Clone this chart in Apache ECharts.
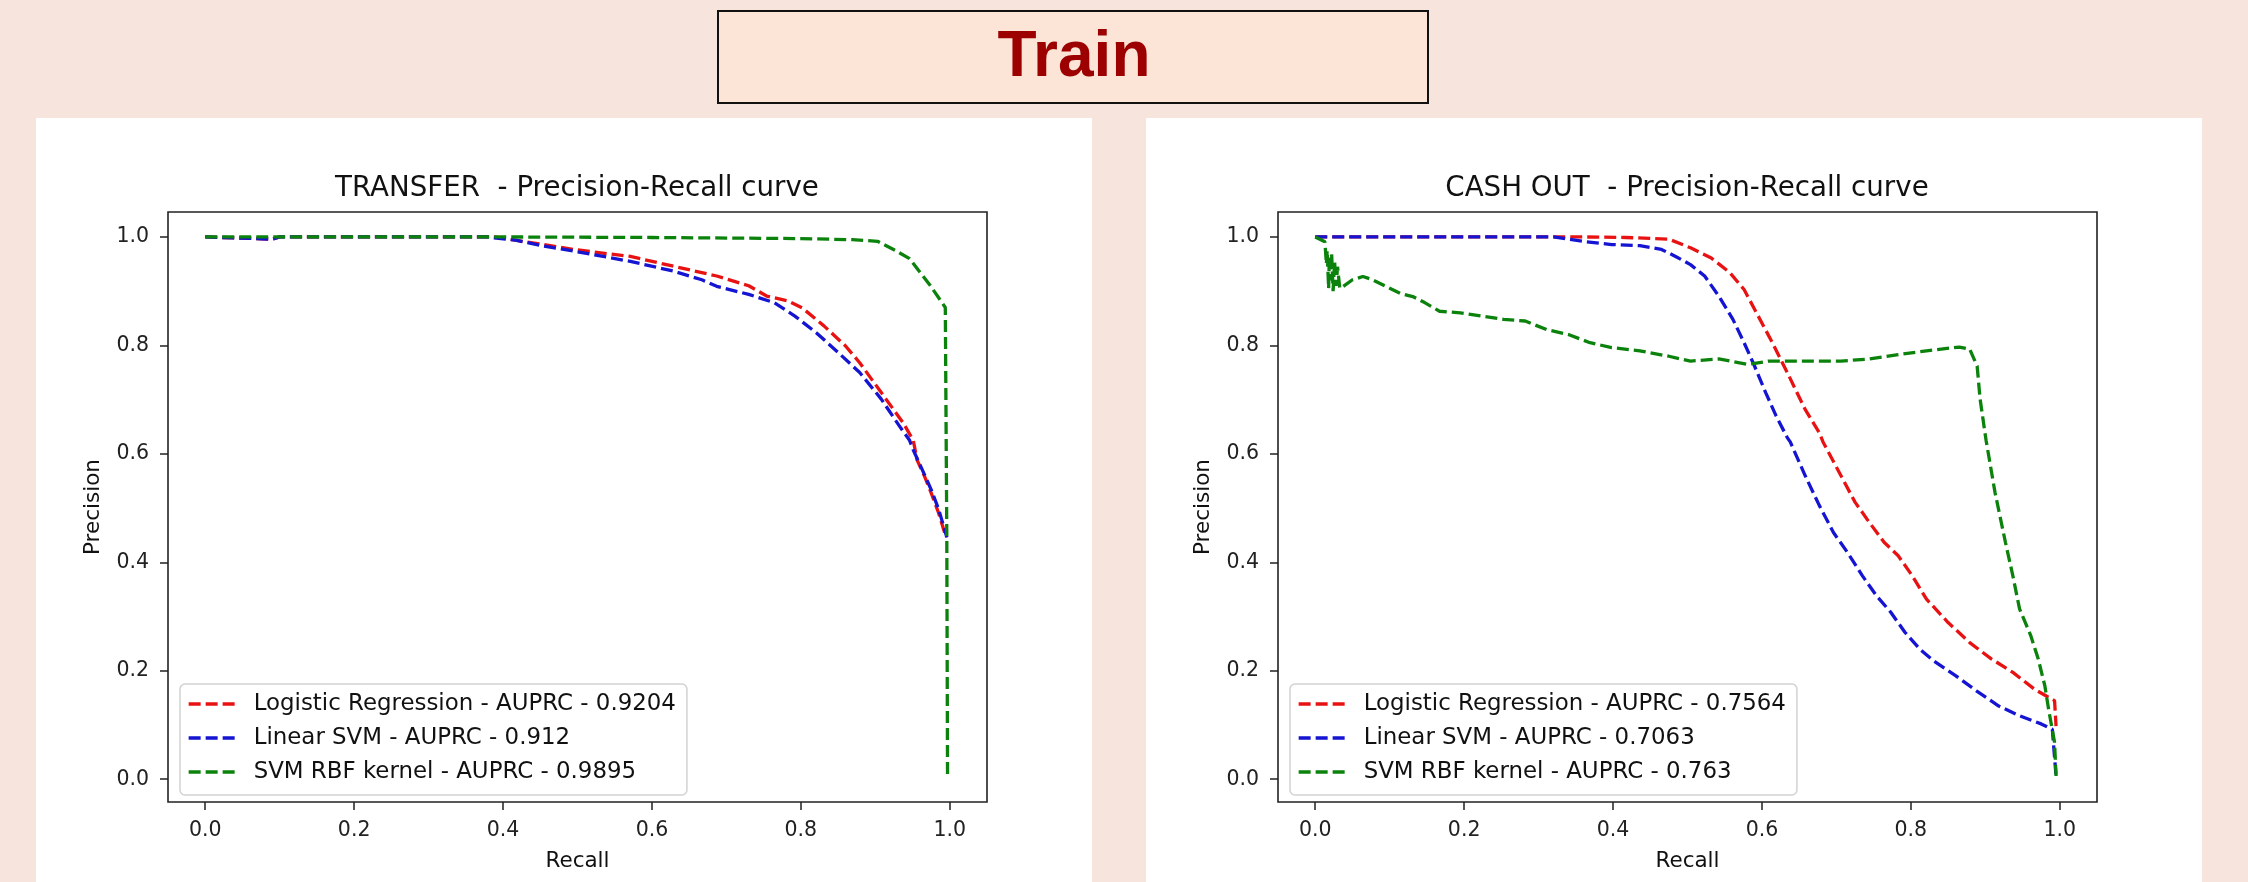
<!DOCTYPE html>
<html>
<head>
<meta charset="utf-8">
<script src="https://cdn.jsdelivr.net/npm/echarts@6/dist/echarts.min.js"></script>
<style>
  html, body { margin: 0; padding: 0; background: #f7e4dd; }
  #chart { width: 2248px; height: 882px; }
</style>
</head>
<body>
<div id="chart"></div>
<script>
// ---------- data ----------
const pageTitle = 'Train';
const panelTitles = ['TRANSFER  - Precision-Recall curve', 'CASH OUT  - Precision-Recall curve'];
const xAxisName = 'Recall';
const yAxisName = 'Precision';
const tickValues = [0, 0.2, 0.4, 0.6, 0.8, 1.0];
const tickLabels = ['0.0', '0.2', '0.4', '0.6', '0.8', '1.0'];
const modelNames = ['Logistic Regression', 'Linear SVM', 'SVM RBF kernel'];
const transferAuprc = ['0.9204', '0.912', '0.9895'];
const cashoutAuprc = ['0.7564', '0.7063', '0.763'];

// TRANSFER
const transferLrRecall    = [0, 0.09, 0.1, 0.2, 0.3, 0.388, 0.455, 0.494, 0.571, 0.629, 0.687, 0.730, 0.754, 0.783, 0.802, 0.831, 0.860, 0.879, 0.908, 0.937, 0.951, 0.956, 0.966, 0.975, 0.985, 0.993, 0.996];
const transferLrPrecision = [1.0, 0.996, 1.0, 1.0, 1.0, 1.0, 0.986, 0.977, 0.964, 0.946, 0.928, 0.910, 0.891, 0.882, 0.869, 0.836, 0.799, 0.768, 0.713, 0.658, 0.625, 0.589, 0.559, 0.528, 0.491, 0.455, 0.446];
const transferSvmRecall    = [0, 0.09, 0.1, 0.2, 0.3, 0.378, 0.417, 0.455, 0.494, 0.571, 0.629, 0.667, 0.687, 0.730, 0.764, 0.792, 0.821, 0.850, 0.879, 0.908, 0.932, 0.946, 0.951, 0.961, 0.975, 0.985, 0.993, 0.996];
const transferSvmPrecision = [1.0, 0.996, 1.0, 1.0, 1.0, 1.0, 0.994, 0.983, 0.974, 0.955, 0.937, 0.921, 0.909, 0.894, 0.879, 0.854, 0.823, 0.787, 0.750, 0.701, 0.652, 0.625, 0.607, 0.577, 0.534, 0.498, 0.461, 0.446];
const transferRbfRecall    = [0, 0.2, 0.4, 0.6, 0.8, 0.869, 0.903, 0.927, 0.946, 0.960, 0.973, 0.986, 0.994, 0.996, 0.997];
const transferRbfPrecision = [1.0, 1.0, 1.0, 0.999, 0.997, 0.995, 0.992, 0.975, 0.960, 0.935, 0.912, 0.886, 0.870, 0.45, 0.006];

// CASH OUT
const cashLrRecall    = [0, 0.2, 0.359, 0.417, 0.475, 0.504, 0.532, 0.557, 0.576, 0.595, 0.614, 0.634, 0.658, 0.677, 0.682, 0.706, 0.725, 0.744, 0.764, 0.783, 0.802, 0.821, 0.850, 0.879, 0.908, 0.937, 0.966, 0.985, 0.993, 0.995];
const cashLrPrecision = [1.0, 1.0, 1.0, 0.999, 0.996, 0.980, 0.961, 0.934, 0.903, 0.854, 0.805, 0.750, 0.682, 0.639, 0.622, 0.560, 0.511, 0.474, 0.437, 0.412, 0.375, 0.332, 0.289, 0.252, 0.222, 0.197, 0.166, 0.151, 0.145, 0.098];
const cashSvmRecall    = [0, 0.2, 0.32, 0.359, 0.398, 0.436, 0.465, 0.484, 0.504, 0.523, 0.542, 0.561, 0.576, 0.590, 0.605, 0.619, 0.634, 0.638, 0.658, 0.677, 0.696, 0.715, 0.735, 0.754, 0.773, 0.792, 0.812, 0.831, 0.860, 0.888, 0.918, 0.946, 0.975, 0.990, 0.995];
const cashSvmPrecision = [1.0, 1.0, 1.0, 0.992, 0.986, 0.984, 0.977, 0.964, 0.949, 0.928, 0.891, 0.848, 0.805, 0.762, 0.713, 0.670, 0.630, 0.622, 0.560, 0.505, 0.455, 0.418, 0.375, 0.338, 0.308, 0.271, 0.240, 0.218, 0.191, 0.163, 0.135, 0.117, 0.102, 0.092, 0.006];
const cashRbfRecall    = [0, 0.013, 0.015, 0.016, 0.018, 0.019, 0.021, 0.022, 0.024, 0.026, 0.028, 0.030, 0.033, 0.037, 0.050, 0.064, 0.077, 0.096, 0.114, 0.131, 0.147, 0.167, 0.195, 0.224, 0.253, 0.282, 0.311, 0.340, 0.369, 0.398, 0.436, 0.475, 0.504, 0.542, 0.581, 0.609, 0.658, 0.706, 0.744, 0.783, 0.821, 0.865, 0.879, 0.889, 0.893, 0.901, 0.913, 0.927, 0.937, 0.946, 0.961, 0.971, 0.980, 0.985, 0.993, 0.995];
const cashRbfPrecision = [1.0, 0.991, 0.950, 0.975, 0.905, 0.965, 0.920, 0.970, 0.900, 0.955, 0.910, 0.945, 0.905, 0.908, 0.921, 0.927, 0.921, 0.908, 0.896, 0.890, 0.879, 0.863, 0.860, 0.854, 0.848, 0.845, 0.829, 0.820, 0.805, 0.796, 0.790, 0.780, 0.771, 0.775, 0.765, 0.771, 0.771, 0.771, 0.775, 0.783, 0.790, 0.797, 0.793, 0.762, 0.701, 0.625, 0.529, 0.437, 0.375, 0.314, 0.265, 0.222, 0.172, 0.129, 0.068, 0.006];

const colors = ['#e81212', '#1414d2', '#0b820b'];

// ---------- build ----------
function zip(xs, ys) { return xs.map((x, i) => [x, ys[i]]); }
function label(v) {
  let best = 0;
  tickValues.forEach((t, i) => { if (Math.abs(t - v) < Math.abs(tickValues[best] - v)) best = i; });
  return tickLabels[best];
}
const font = 'DejaVu Sans';
const grids = [
  { left: 168, top: 212, width: 819, height: 590 },
  { left: 1278, top: 212, width: 819, height: 590 }
];
const panelData = [
  { auprc: transferAuprc, curves: [zip(transferLrRecall, transferLrPrecision), zip(transferSvmRecall, transferSvmPrecision), zip(transferRbfRecall, transferRbfPrecision)] },
  { auprc: cashoutAuprc, curves: [zip(cashLrRecall, cashLrPrecision), zip(cashSvmRecall, cashSvmPrecision), zip(cashRbfRecall, cashRbfPrecision)] }
];

const xAxes = [], yAxes = [], series = [], legends = [];
grids.forEach((g, gi) => {
  xAxes.push({
    type: 'value', gridIndex: gi, min: -0.05, max: 1.05, position: 'bottom',
    name: xAxisName, nameLocation: 'middle', nameGap: 48,
    nameTextStyle: { fontFamily: font, fontSize: 21.5, color: '#111' },
    axisLine: { show: false, onZero: false },
    splitLine: { show: false },
    axisTick: { show: true, length: 8, customValues: tickValues, lineStyle: { color: '#222', width: 1.5 } },
    axisLabel: { customValues: tickValues, formatter: label, margin: 18, fontFamily: font, fontSize: 20.5, color: '#222' }
  });
  yAxes.push({
    type: 'value', gridIndex: gi, min: -0.042, max: 1.046, position: 'left',
    name: yAxisName, nameLocation: 'middle', nameGap: 64,
    nameTextStyle: { fontFamily: font, fontSize: 21.5, color: '#111' },
    axisLine: { show: false, onZero: false },
    splitLine: { show: false },
    axisTick: { show: true, length: 8, customValues: tickValues, lineStyle: { color: '#222', width: 1.5 } },
    axisLabel: { customValues: tickValues, formatter: label, margin: 19, fontFamily: font, fontSize: 20.5, color: '#222' }
  });
  const names = [];
  panelData[gi].curves.forEach((d, si) => {
    const name = modelNames[si] + ' - AUPRC - ' + panelData[gi].auprc[si];
    names.push(name);
    series.push({
      type: 'line', name, xAxisIndex: gi, yAxisIndex: gi, data: d,
      symbol: 'none', showSymbol: false, silent: true, clip: true,
      lineStyle: { color: colors[si], width: 3.3, type: [12, 5] },
      itemStyle: { color: colors[si] }
    });
  });
  legends.push({
    data: names, orient: 'vertical', left: g.left + 12, top: 684,
    itemWidth: 47, itemHeight: 24, itemGap: 10,
    padding: [8, 11, 11, 7],
    selectedMode: false,
    borderColor: '#d2d2d2', borderWidth: 1.5, borderRadius: 5,
    backgroundColor: 'rgba(255,255,255,0.85)',
    itemStyle: { opacity: 0, borderWidth: 0 },
    lineStyle: { width: 3.3 },
    textStyle: { fontFamily: font, fontSize: 22.9, color: '#111', lineHeight: 24, padding: [0, 0, 0, 13] }
  });
});

const chart = echarts.init(document.getElementById('chart'), null, { renderer: 'canvas' });
chart.setOption({
  backgroundColor: '#f7e4dd',
  animation: false,
  grid: grids.map(g => Object.assign({ show: true, backgroundColor: 'transparent', borderColor: '#222', borderWidth: 1.6, outerBoundsMode: 'none' }, g)),
  xAxis: xAxes,
  yAxis: yAxes,
  legend: legends,
  series,
  graphic: [
    { type: 'rect', z: -10, shape: { x: 36, y: 118, width: 1056, height: 764 }, style: { fill: '#ffffff' } },
    { type: 'rect', z: -10, shape: { x: 1146, y: 118, width: 1056, height: 764 }, style: { fill: '#ffffff' } },
    { type: 'rect', z: -10, shape: { x: 718, y: 11, width: 710, height: 92 }, style: { fill: '#fce4d6', stroke: '#111', lineWidth: 2 } },
    { type: 'text', z: 10, x: 1074, y: 58, style: { text: pageTitle, fontFamily: 'Liberation Sans', fontWeight: 'bold', fontSize: 64, fill: '#9c0000', align: 'center', verticalAlign: 'middle' } },
    { type: 'text', z: 10, x: 577, y: 189, style: { text: panelTitles[0], fontFamily: font, fontSize: 27.7, fill: '#111', align: 'center', verticalAlign: 'middle' } },
    { type: 'text', z: 10, x: 1687, y: 189, style: { text: panelTitles[1], fontFamily: font, fontSize: 27.7, fill: '#111', align: 'center', verticalAlign: 'middle' } }
  ]
});
</script>
</body>
</html>
